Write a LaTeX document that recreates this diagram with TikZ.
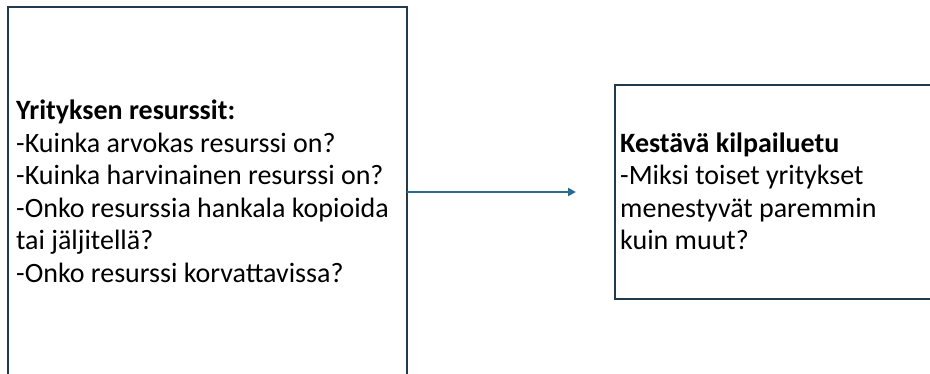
\documentclass[tikz,border=0pt]{standalone}
\usepackage{fontspec}
\setmainfont{Carlito}
\usetikzlibrary{arrows.meta}
\definecolor{reunaväri}{HTML}{1F3B4C}
\definecolor{nuoliväri}{HTML}{2B6A94}
\tikzset{>={Triangle[length=8pt,width=8pt]}}
\tikzset{
    laatikko/.style={draw=reunaväri, line width=2pt, rectangle, inner sep=0pt, outer sep=0pt, anchor=north west},
    teksti/.style={align=left, inner sep=0pt, anchor=base west, font=\fontsize{28}{32.5}\selectfont},
}

\begin{document}
\begin{tikzpicture}[x=1pt,y=-1pt]
    \useasboundingbox (0,0) rectangle (930,374);
    \node[laatikko, minimum width=399pt, minimum height=370pt] (resurssit) at (8,7) {};
    \node[laatikko, minimum width=340pt, minimum height=214pt] (kilpailuetu) at (615,85) {};
    % tekstit: ankkuri on viimeisen rivin pohjaviivalla
    \node[teksti] (resurssitteksti) at (16,282.5) {\textbf{Yrityksen resurssit:}\\-Kuinka arvokas resurssi on?\\-Kuinka harvinainen resurssi on?\\-Onko resurssia hankala kopioida\\tai jäljitellä?\\-Onko resurssi korvattavissa?};
    \node[teksti] (kilpailuetuteksti) at (620,250) {\textbf{Kestävä kilpailuetu}\\-Miksi toiset yritykset\\menestyvät paremmin\\kuin muut?};
    \coordinate (nuolenkarki) at (576,192);
    \draw[->, nuoliväri, line width=2pt] (resurssit.east) -- (nuolenkarki);
\end{tikzpicture}
\end{document}
